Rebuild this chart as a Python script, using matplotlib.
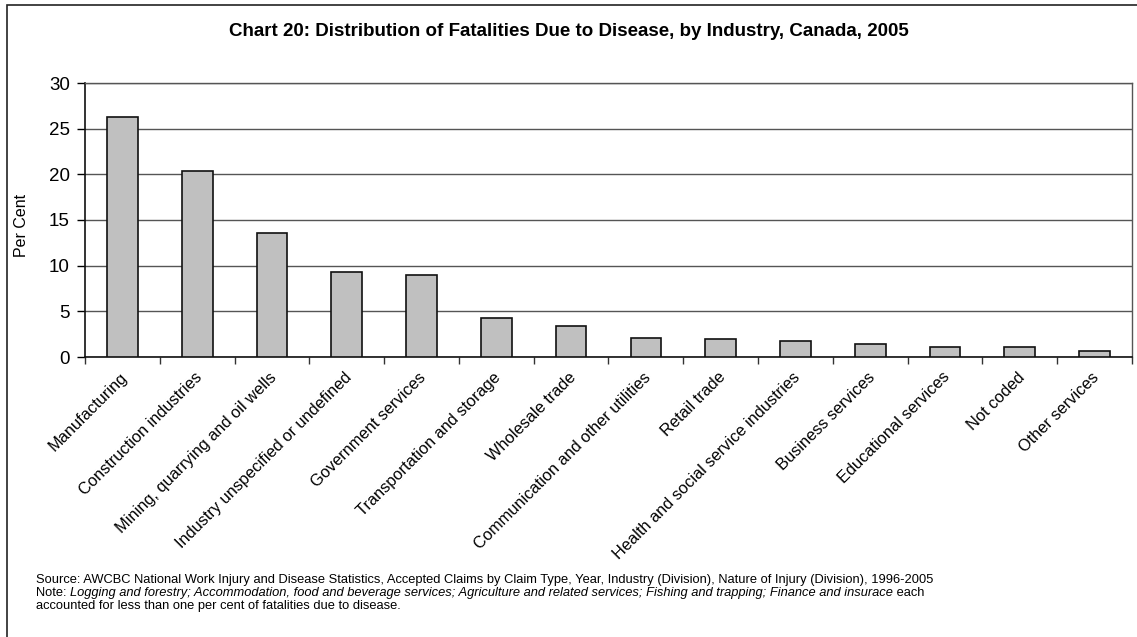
import matplotlib
matplotlib.use("Agg")
import matplotlib.pyplot as plt
from matplotlib.patches import Rectangle
from matplotlib.transforms import ScaledTranslation

plt.rcParams["font.family"] = ["Liberation Sans", "DejaVu Sans"]

# ── data ──────────────────────────────────────────────────────────────────────
industries = [
    "Manufacturing",
    "Construction industries",
    "Mining, quarrying and oil wells",
    "Industry unspecified or undefined",
    "Government services",
    "Transportation and storage",
    "Wholesale trade",
    "Communication and other utilities",
    "Retail trade",
    "Health and social service industries",
    "Business services",
    "Educational services",
    "Not coded",
    "Other services",
]
per_cent = [26.3, 20.4, 13.6, 9.3, 9.0, 4.3, 3.4, 2.1, 2.0, 1.8, 1.45, 1.05, 1.05, 0.7]
y_ticks = [0, 5, 10, 15, 20, 25, 30]

TITLE = "Chart 20: Distribution of Fatalities Due to Disease, by Industry, Canada, 2005"
SOURCE = ("Source: AWCBC National Work Injury and Disease Statistics, Accepted Claims by Claim Type, "
          "Year, Industry (Division), Nature of Injury (Division), 1996-2005")
NOTE_ITALIC = ("Logging and forestry; Accommodation, food and beverage services; Agriculture and "
               "related services; Fishing and trapping; Finance and insurace")

W, H = 1137, 637
fig = plt.figure(figsize=(W / 100, H / 100), dpi=100)

# outer frame
fig.add_artist(Rectangle((7 / W, -0.05), 1.2, (1 - 5 / H) + 0.05, transform=fig.transFigure,
                         fill=False, edgecolor="#222222", linewidth=1.2))

ax = fig.add_axes([85 / W, 1 - 357 / H, (1132 - 85) / W, (357 - 83) / H])
x = list(range(len(industries)))
ax.bar(x, per_cent, width=0.41, color="#c0c0c0", edgecolor="#111111", linewidth=1.2, zorder=3)

ax.set_xlim(-0.5, len(industries) - 0.5)
ax.set_ylim(0, 30)
ax.set_yticks(y_ticks)
ax.set_yticklabels([str(v) for v in y_ticks], fontsize=13.5)
ax.yaxis.grid(True, color="#555555", linewidth=1.0, zorder=0)

# category boundaries as x ticks (Excel style)
ax.set_xticks([i - 0.5 for i in range(len(industries) + 1)])
ax.set_xticklabels([])
ax.set_xticks(x, minor=True)
ax.set_xticklabels(industries, minor=True, rotation=45, ha="right", va="top",
                   rotation_mode="anchor", fontsize=11.8)
ax.tick_params(axis="x", which="minor", length=0, pad=9)
ax.tick_params(axis="x", which="major", length=5, width=1, color="#333333")
ax.tick_params(axis="y", length=6, width=1, pad=5)
shift = ScaledTranslation(-3 / 100, 0, fig.dpi_scale_trans)
for lbl in ax.get_xticklabels(minor=True):
    lbl.set_transform(lbl.get_transform() + shift)

for side in ["left", "bottom"]:
    ax.spines[side].set_color("#111111")
    ax.spines[side].set_linewidth(1.2)
for side in ["top", "right"]:
    ax.spines[side].set_color("#555555")
    ax.spines[side].set_linewidth(1.0)

fig.text(22 / W, 1 - 225 / H, "Per Cent", rotation=90, ha="center", va="center", fontsize=11.5)

fig.text(0.5, 1 - 32 / H, TITLE, ha="center", va="center", fontsize=13.5, fontweight="bold")

# source / note
fs = 9.3
x0 = 36 / W
fig.text(x0, 1 - 583 / H, SOURCE, ha="left", va="baseline", fontsize=fs)
t1 = fig.text(x0, 1 - 596 / H, "Note: ", ha="left", va="baseline", fontsize=fs)
fig.canvas.draw()
r = fig.canvas.get_renderer()
x1 = t1.get_window_extent(r).x1 / W
t2 = fig.text(x1, 1 - 596 / H, NOTE_ITALIC, ha="left", va="baseline", fontsize=fs, style="italic")
fig.canvas.draw()
x2 = t2.get_window_extent(r).x1 / W
fig.text(x2, 1 - 596 / H, " each", ha="left", va="baseline", fontsize=fs)
fig.text(x0, 1 - 609 / H, "accounted for less than one per cent of fatalities due to disease.",
         ha="left", va="baseline", fontsize=fs)

fig.savefig("out.png", dpi=100)
